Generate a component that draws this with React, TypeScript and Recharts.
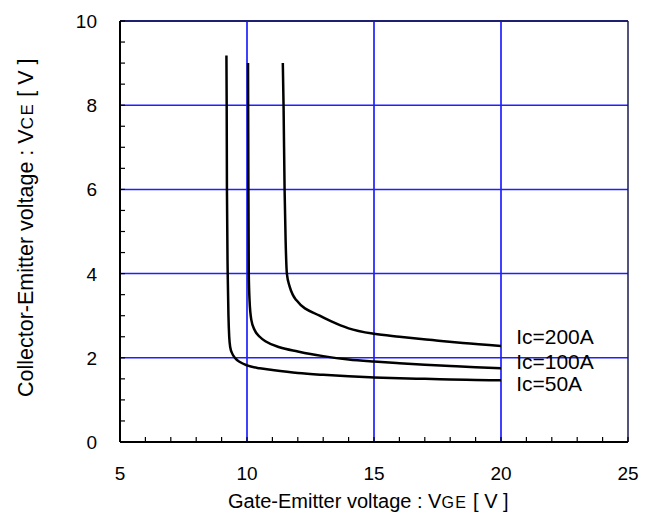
import { LineChart, Line, XAxis, YAxis, ReferenceLine, ReferenceDot, Label } from 'recharts'

// VGE [V] / VCE [V]
const vge50 = [9.19, 9.2, 9.21, 9.24, 9.27, 9.3, 9.34, 9.42, 9.55, 9.72, 10.0, 10.5, 11.0, 12.0, 13.0, 14.0, 15.0, 16.0, 17.0, 18.0, 19.0, 20.0]
const vce50 = [9.18, 8.0, 6.0, 4.0, 3.0, 2.5, 2.25, 2.1, 1.98, 1.9, 1.82, 1.75, 1.71, 1.64, 1.595, 1.56, 1.535, 1.515, 1.5, 1.487, 1.475, 1.465]

const vge100 = [10.04, 10.045, 10.055, 10.07, 10.085, 10.1, 10.17, 10.3, 10.5, 10.76, 11.28, 12.0, 12.5, 13.0, 14.0, 15.0, 16.0, 17.0, 18.0, 19.0, 20.0]
const vce100 = [9.0, 8.0, 6.0, 4.0, 3.6, 3.37, 2.9, 2.66, 2.5, 2.38, 2.25, 2.15, 2.09, 2.04, 1.96, 1.91, 1.87, 1.835, 1.805, 1.775, 1.75]

const vge200 = [11.41, 11.44, 11.48, 11.52, 11.57, 11.68, 11.8, 11.94, 12.86, 13.3, 14.0, 15.0, 16.0, 17.3, 18.5, 20.0]
const vce200 = [9.0, 7.96, 5.99, 4.8, 4.0, 3.69, 3.5, 3.37, 3.0, 2.87, 2.7, 2.57, 2.5, 2.42, 2.35, 2.28]

const seriesNames = ['Ic=200A', 'Ic=100A', 'Ic=50A']
const labelX = 20.4
const labelY = [2.5, 1.91, 1.38]

const xTicks = [5, 6, 7, 8, 9, 10, 11, 12, 13, 14, 15, 16, 17, 18, 19, 20, 21, 22, 23, 24, 25]
const yTicks = [0, 0.5, 1, 1.5, 2, 2.5, 3, 3.5, 4, 4.5, 5, 5.5, 6, 6.5, 7, 7.5, 8, 8.5, 9, 9.5, 10]
const xGrid = [10, 15, 20]
const yGrid = [2, 4, 6, 8]

const FONT = '"Liberation Sans", Arial, sans-serif'

function toPoints(xs: number[], ys: number[]) {
  return xs.map((x, i) => ({ x, y: ys[i] }))
}

const curves = [toPoints(vge200, vce200), toPoints(vge100, vce100), toPoints(vge50, vce50)]

function XTick(props: any) {
  const { x, y, payload } = props
  const major = payload.value % 5 === 0
  return (
    <g>
      <line x1={x} x2={x} y1={y} y2={y - 5} stroke="#000" strokeWidth={1.2} />
      {major && (
        <text x={x} y={y + 38} textAnchor="middle" fontSize={19} fontFamily={FONT} fill="#000">
          {payload.value}
        </text>
      )}
    </g>
  )
}

function YTick(props: any) {
  const { x, y, payload } = props
  const major = payload.value % 2 === 0
  return (
    <g>
      <line x1={x} x2={x + 5} y1={y} y2={y} stroke="#000" strokeWidth={1.2} />
      {major && (
        <text x={x - 23} y={y + 7} textAnchor="end" fontSize={19} fontFamily={FONT} fill="#000">
          {payload.value}
        </text>
      )}
    </g>
  )
}

export default function App() {
  return (
    <div style={{ position: 'absolute', left: 0, top: 0, background: '#fff' }}>
      <LineChart width={656} height={512} margin={{ top: 21, right: 28, bottom: 0, left: 0 }}>
        <XAxis
          type="number"
          dataKey="x"
          domain={[5, 25]}
          ticks={xTicks}
          interval={0}
          tickSize={0}
          tickMargin={0}
          tick={<XTick />}
          height={70}
          axisLine={{ stroke: '#000', strokeWidth: 2 }}
          allowDataOverflow
        >
          <Label
            content={() => (
              <text x={228} y={508} fontSize={20} fontFamily={FONT} fill="#000">
                Gate-Emitter voltage : V<tspan fontSize={16} letterSpacing={1.5}>GE</tspan> [ V ]
              </text>
            )}
          />
        </XAxis>
        <YAxis
          type="number"
          domain={[0, 10]}
          ticks={yTicks}
          interval={0}
          tickSize={0}
          tickMargin={0}
          tick={<YTick />}
          width={120}
          axisLine={{ stroke: '#000', strokeWidth: 2 }}
          allowDataOverflow
        >
          <Label
            content={() => (
              <text x={33} y={397} transform="rotate(-90, 33, 397)" fontSize={21.5} fontFamily={FONT} fill="#000">
                Collector-Emitter voltage : V<tspan fontSize={17} letterSpacing={1.5}>CE</tspan> [ V ]
              </text>
            )}
          />
        </YAxis>

        {xGrid.map((v) => (
          <ReferenceLine key={'gx' + v} x={v} stroke="#0000ff" strokeWidth={1.5} />
        ))}
        {yGrid.map((v) => (
          <ReferenceLine key={'gy' + v} y={v} stroke="#2020ff" strokeWidth={1.5} />
        ))}
        <ReferenceLine y={10} stroke="#1f1f70" strokeWidth={2} />
        <ReferenceLine x={25} stroke="#1a1a50" strokeWidth={1.5} />

        {curves.map((pts, i) => (
          <Line
            key={seriesNames[i]}
            data={pts}
            dataKey="y"
            type="monotone"
            stroke="#000"
            strokeWidth={2.5}
            dot={false}
            activeDot={false}
            isAnimationActive={false}
          />
        ))}

        {seriesNames.map((name, i) => (
          <ReferenceDot
            key={'lbl' + name}
            x={labelX}
            y={labelY[i]}
            r={0}
            fill="none"
            stroke="none"
            label={{ value: name, position: 'right', offset: 5, fontSize: 21, fontFamily: FONT, fill: '#000' }}
          />
        ))}
      </LineChart>
    </div>
  )
}
